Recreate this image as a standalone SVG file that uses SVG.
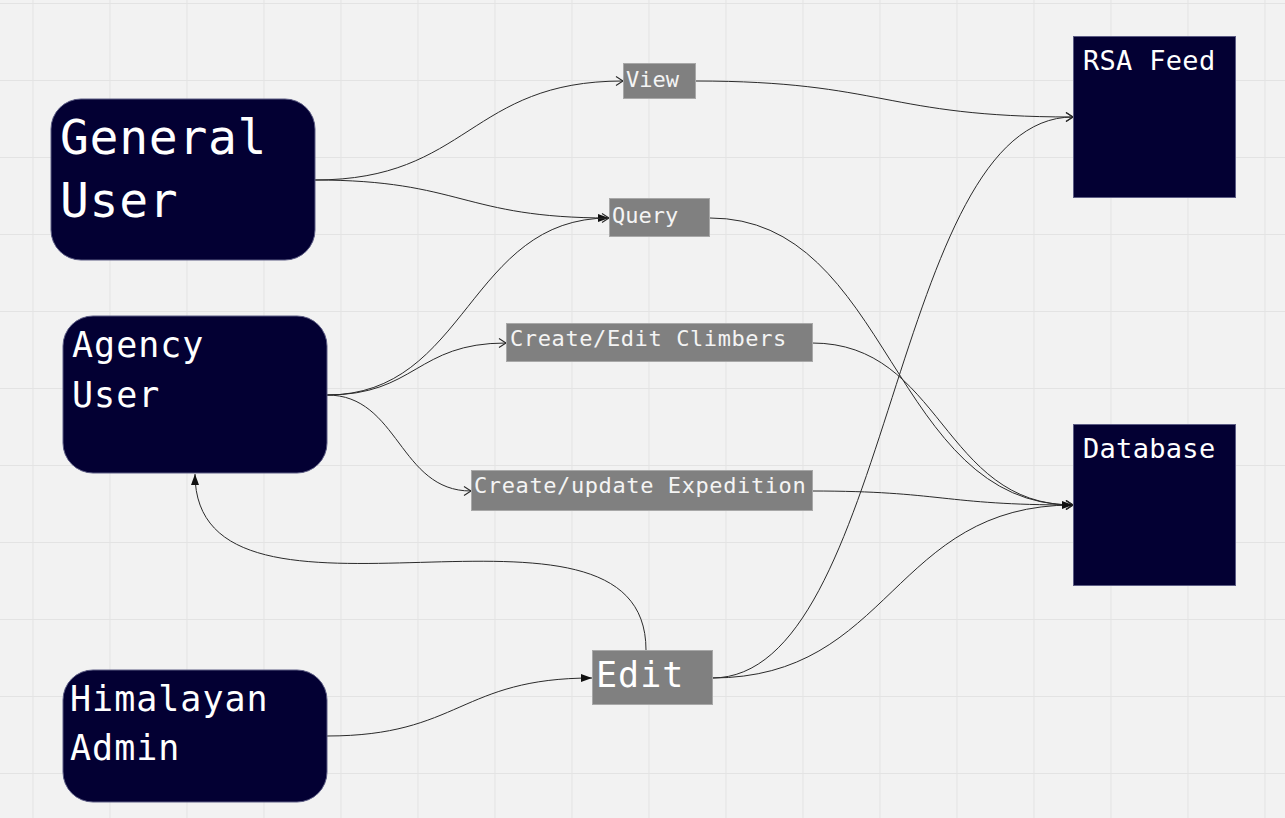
<svg xmlns="http://www.w3.org/2000/svg" width="1285" height="818" viewBox="0 0 1285 818">
<defs>
<style>
.bg{fill:#f2f2f2}
.grid{stroke:#e3e3e3;stroke-width:1;fill:none}
.node{fill:#030033;stroke:#5c5c84;stroke-width:1}
.lbl{fill:#808080;stroke:#a8a8a8;stroke-width:1}
.nt{font-family:"DejaVu Sans Mono","Liberation Mono",monospace;fill:#ffffff}
.lt{font-family:"DejaVu Sans Mono","Liberation Mono",monospace;fill:#f4f4f4;font-size:22px}
.c{fill:none;stroke:#2a2a2a;stroke-width:1}
.open{marker-end:url(#aOpen)}
.fill{marker-end:url(#aFill)}
</style>
<marker id="aOpen" markerUnits="userSpaceOnUse" markerWidth="12" markerHeight="12" refX="8" refY="5" orient="auto">
<path d="M1,0.5 L8,5 L1,9.5" fill="none" stroke="#2a2a2a" stroke-width="1.1"/>
</marker>
<marker id="aFill" markerUnits="userSpaceOnUse" markerWidth="14" markerHeight="12" refX="11" refY="4" orient="auto">
<path d="M0,0 L11,4 L0,8 Z" fill="#111"/>
</marker>
</defs>
<rect class="bg" x="0" y="0" width="1285" height="818"/>
<path class="grid" d="M33,0V818M110,0V818M187,0V818M264,0V818M341,0V818M418,0V818M495,0V818M572,0V818M649,0V818M726,0V818M803,0V818M880,0V818M957,0V818M1034,0V818M1111,0V818M1188,0V818M1265,0V818M0,3.5H1285M0,80.5H1285M0,157.5H1285M0,234.5H1285M0,311.5H1285M0,388.5H1285M0,465.5H1285M0,542.5H1285M0,619.5H1285M0,696.5H1285M0,773.5H1285"/>

<g id="connectors">
<path class="c open" d="M315,180 C469,180 469,81 623,81"/>
<path class="c fill" d="M315,180 C462,180 462,218 609,218"/>
<path class="c open" d="M695,81 C884,81 884,117 1073,117"/>
<path class="c open" d="M710,218 C891,218 891,505 1073,505"/>
<path class="c open" d="M327,395 C468,395 468,218 609,218"/>
<path class="c open" d="M327,395 C416,395 416,343 506,343"/>
<path class="c open" d="M327,395 C399,395 399,491 471,491"/>
<path class="c open" d="M812,343 C942,343 942,505 1073,505"/>
<path class="c open" d="M812,491 C942,491 942,505 1073,505"/>
<path class="c fill" d="M327,736 C460,736 460,678 592,678"/>
<path class="c fill" d="M646,650 C646,462 195,663 195,474"/>
<path class="c open" d="M712,678 C892,678 892,117 1073,117"/>
<path class="c fill" d="M712,678 C892,678 892,505 1073,505"/>
</g>

<g id="general-user">
<rect class="node" x="51" y="99" width="264" height="161" rx="30"/>
<text class="nt" font-size="48" letter-spacing="0.7" x="60" y="154">General</text>
<text class="nt" font-size="48" letter-spacing="0.7" x="60" y="217">User</text>
</g>
<g id="agency-user">
<rect class="node" x="63" y="316" width="264" height="157" rx="30"/>
<text class="nt" font-size="35" letter-spacing="1" x="72" y="357">Agency</text>
<text class="nt" font-size="35" letter-spacing="1" x="72" y="407">User</text>
</g>
<g id="himalayan-admin">
<rect class="node" x="63" y="670" width="264" height="132" rx="30"/>
<text class="nt" font-size="35" letter-spacing="1" x="70" y="711">Himalayan</text>
<text class="nt" font-size="35" letter-spacing="1" x="70" y="760">Admin</text>
</g>
<g id="rsa-feed">
<rect class="node" x="1073.5" y="36.5" width="162" height="161"/>
<text class="nt" font-size="27" letter-spacing="0.3" x="1083" y="70">RSA Feed</text>
</g>
<g id="database">
<rect class="node" x="1073.5" y="424.5" width="162" height="161"/>
<text class="nt" font-size="27" letter-spacing="0.3" x="1083" y="458">Database</text>
</g>
<g id="view">
<rect class="lbl" x="623.5" y="63.5" width="72" height="35"/>
<text class="lt" x="626" y="87">View</text>
</g>
<g id="query">
<rect class="lbl" x="609.5" y="198.5" width="100" height="38"/>
<text class="lt" x="612" y="223">Query</text>
</g>
<g id="create-edit-climbers">
<rect class="lbl" x="506.5" y="323.5" width="306" height="38"/>
<text class="lt" x="510" y="346" font-size="23" letter-spacing="0.6">Create/Edit Climbers</text>
</g>
<g id="create-update-expedition">
<rect class="lbl" x="471.5" y="470.5" width="341" height="40"/>
<text class="lt" x="474" y="493" font-size="23" letter-spacing="0.6">Create/update Expedition</text>
</g>
<g id="edit">
<rect class="lbl" x="592.5" y="650.5" width="120" height="54"/>
<text class="nt" font-size="35" letter-spacing="1" x="596" y="687" fill="#f4f4f4">Edit</text>
</g>
</svg>
